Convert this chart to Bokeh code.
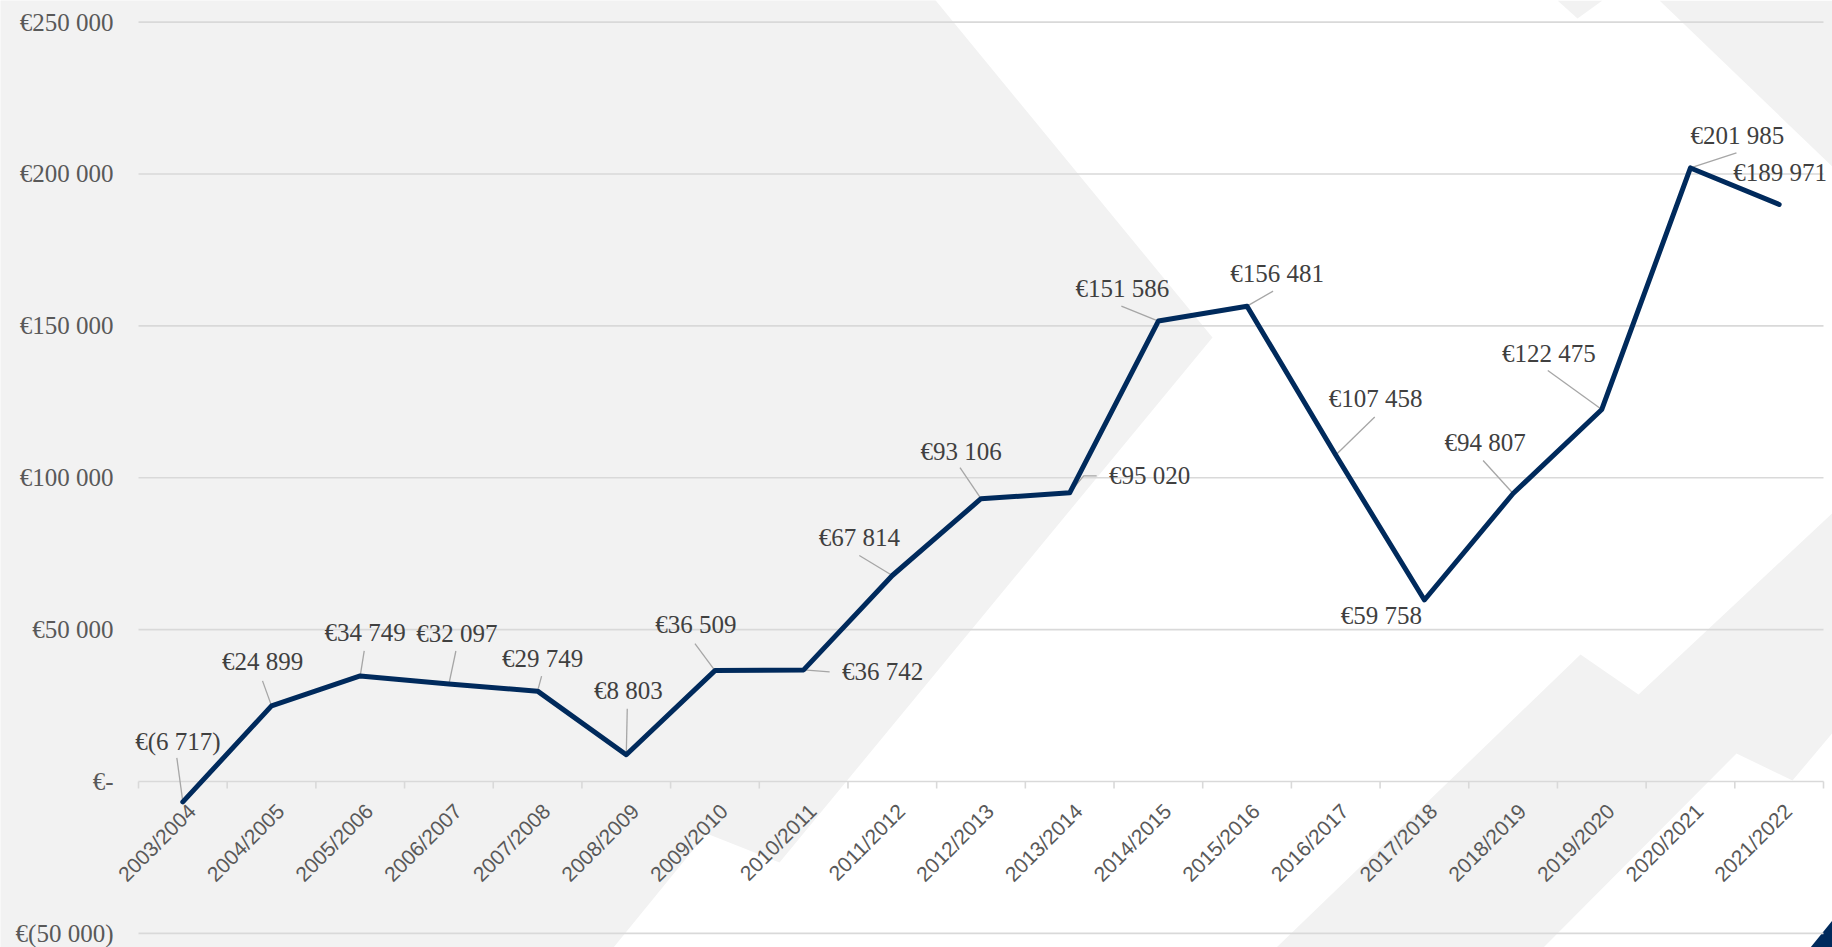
import math
from bokeh.plotting import figure
from bokeh.models import Range1d, FixedTicker
from bokeh.embed import file_html
from bokeh.resources import INLINE
from bokeh.core.properties import value

# ---------------- data ----------------
seasons = ["2003/2004", "2004/2005", "2005/2006", "2006/2007", "2007/2008",
           "2008/2009", "2009/2010", "2010/2011", "2011/2012", "2012/2013",
           "2013/2014", "2014/2015", "2015/2016", "2016/2017", "2017/2018",
           "2018/2019", "2019/2020", "2020/2021", "2021/2022"]
results = [-6717, 24899, 34749, 32097, 29749, 8803, 36509, 36742, 67814, 93106,
           95020, 151586, 156481, 107458, 59758, 94807, 122475, 201985, 189971]
y_ticks = [-50000, 0, 50000, 100000, 150000, 200000, 250000]
y_tick_labels = ["€(50 000)", "€-", "€50 000", "€100 000", "€150 000", "€200 000", "€250 000"]

# ---------------- layout (pixels) ----------------
# label centre offsets from each point (screen px, +y = down)
label_dx = [-5, -9, 5, 8, 5, 2, -19, 79, -33, -20, 80, -36, 30, 40, -43, -28, -53, 47, 1]
label_dy = [-60, -44, -43, -51, -33, -64, -46, 2, -38, -47, -17, -33, -33, -57, 16, -51, -56, -32, -32]
# leader line vertices (screen px offsets from point), None = no leader
leaders = [
    [(-6, -44)], [(-9, -25)], [(4, -25)], [(7, -33)], [(4, -15)], [(1, -46)],
    [(-20, -27)], [(26, 2)], [(-33, -20)], [(-21, -31)], [(27, -17), (14, -17)],
    [(-37, -15)], [(26, -15)], [(39, -38)], None, [(-30, -33)], [(-54, -39)],
    [(46, -15)], None,
]

W, H = 1832, 947
FRAME_X0 = 138.0                 # x of the category axis start
PX_X = (1823.0 - FRAME_X0) / 19  # px per category
ZERO_Y = 781.0                   # y of value 0
PX_Y = 759.4 / 250000.0          # px per unit

def px(xp):
    return (xp - FRAME_X0) / PX_X

def py(yp):
    return (ZERO_Y - yp) / PX_Y

GRAY = "#f2f2f2"
NAVY = "#002a5c"
GRID = "#d9d9d9"

p = figure(width=W, height=H, output_backend="svg", toolbar_location=None,
           x_range=Range1d(px(0), px(W)), y_range=Range1d(py(H), py(0)),
           min_border_left=0, min_border_right=0, min_border_top=0, min_border_bottom=0)
p.outline_line_color = None
p.background_fill_color = "white"
p.border_fill_color = "white"

# decorative background shapes (screen px)
bg_shapes = [
    ([(-10, -10), (927, -10), (1212, 337), (779, 862), (706, 833), (613, 947), (605, 960), (-10, 960)], GRAY),
    ([(1557, 0), (1577, 18), (1602, 0)], GRAY),
    ([(1659, 0), (1840, 0), (1840, 174)], GRAY),
    ([(1276, 947), (1580, 654), (1638, 694), (1840, 505), (1840, 723), (1792, 780),
      (1736, 753), (1543, 947)], GRAY),
    ([(1810, 947), (1840, 910), (1840, 960), (1800, 960)], NAVY),
]
p.patches(xs=[[px(a) for a, b in s] for s, c in bg_shapes],
          ys=[[py(b) for a, b in s] for s, c in bg_shapes],
          fill_color=[c for s, c in bg_shapes], line_color=None, level="image")

# horizontal gridlines (including the zero axis line)
n_cat = len(seasons)
p.xgrid.visible = False
p.ygrid.visible = False
p.segment(x0=[0] * len(y_ticks), x1=[n_cat] * len(y_ticks), y0=y_ticks, y1=y_ticks,
          line_color=GRID, line_width=1.6, level="underlay")
# category boundary tick marks under the zero line
bounds = list(range(n_cat + 1))
p.segment(x0=bounds, x1=bounds, y0=[0] * len(bounds), y1=[-7 / PX_Y] * len(bounds),
          line_color=GRID, line_width=1.6, level="underlay")

# y axis fixed at the start of the category axis
yax = p.yaxis[0]
yax.fixed_location = 0
yax.ticker = FixedTicker(ticks=y_ticks)
yax.major_label_overrides = {t: s for t, s in zip(y_ticks, y_tick_labels)}
yax.axis_line_color = None
yax.major_tick_line_color = None
yax.minor_tick_line_color = None
yax.major_tick_out = 0
yax.major_tick_in = 0
yax.major_label_standoff = 25
yax.major_label_text_font = "Liberation Serif"
yax.major_label_text_font_size = "25px"
yax.major_label_text_color = "#595959"

p.xaxis.visible = False

# category labels, rotated 45 degrees, ending at each category centre
centers = [i + 0.5 for i in range(n_cat)]
p.text(x=[c + 9 / PX_X for c in centers], y=[-26 / PX_Y] * n_cat, text=seasons,
       angle=math.pi / 4, text_align="right", text_baseline="middle",
       text_font=value("Liberation Sans"), text_font_size="21px", text_color="#595959")

# leader lines
lx, ly = [], []
for c, v, ld in zip(centers, results, leaders):
    if ld is None:
        continue
    lx.append([c + dx / PX_X for dx, dy in ld] + [c])
    ly.append([v - dy / PX_Y for dx, dy in ld] + [v])
p.multi_line(xs=lx, ys=ly, line_color="#a6a6a6", line_width=1.3)

# main line
p.line(x=centers, y=results, line_color=NAVY, line_width=5,
       line_join="round", line_cap="round")

def fmt(v):
    s = f"{abs(v):,}".replace(",", " ")
    return f"€({s})" if v < 0 else f"€{s}"

p.text(x=[c + dx / PX_X for c, dx in zip(centers, label_dx)],
       y=[v - dy / PX_Y for v, dy in zip(results, label_dy)],
       text=[fmt(v) for v in results],
       text_align="center", text_baseline="middle",
       text_font=value("Liberation Serif"), text_font_size="25px",
       text_color="#404040")

open("out.html", "w").write(file_html(p, INLINE))
